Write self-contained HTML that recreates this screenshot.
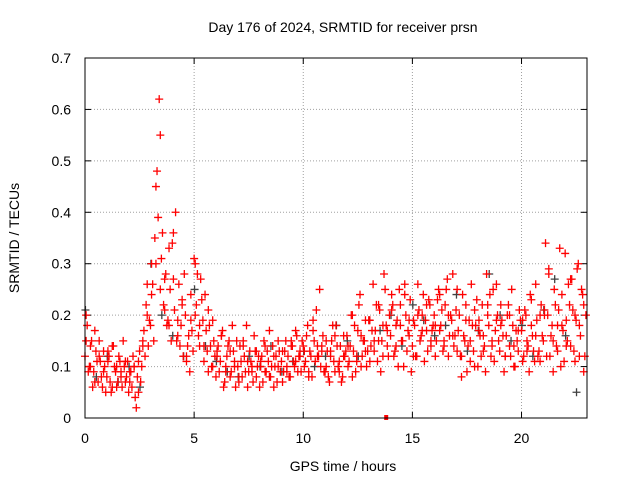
<!DOCTYPE html>
<html><head><meta charset="utf-8"><style>
html,body{margin:0;padding:0;background:#fff;}
svg{display:block;font-family:"Liberation Sans",sans-serif;}
</style></head><body>
<svg id="chart" width="640" height="480" viewBox="0 0 640 480">
<text x="343" y="32" text-anchor="middle" font-size="14" fill="#000">Day 176 of 2024, SRMTID for receiver prsn</text>
<text x="343" y="471" text-anchor="middle" font-size="14" fill="#000">GPS time / hours</text>
<text transform="translate(19,238) rotate(-90)" text-anchor="middle" font-size="14" fill="#000">SRMTID / TECUs</text>
<g id="grid"></g>
<g id="ticks"></g>
<g id="marks"></g>
<rect x="85" y="58" width="502" height="360" fill="none" stroke="#000" stroke-width="1"/>
</svg>
<script>
const xTicks=[0,5,10,15,20];
const yTicks=[0,0.1,0.2,0.3,0.4,0.5,0.6,0.7];
const yTickLabels=["0","0.1","0.2","0.3","0.4","0.5","0.6","0.7"];
const seriesA=[.12,.18,.10,.15,.09,.13,.07,.11,.06,.10,.08,.12,.05,.14,.09,.07,.11,.06,.10,.08,.05,.09,.12,.04,.08,.13,.10,.17,.22,.14,.18,.26,.35,.48,.62,.31,.22,.28,.19,.25,.34,.21,.15,.26,.18,.12,.20,.14,.09,.17,.31,.22,.16,.27,.19,.24,.13,.18,.10,.15,.08,.14,.11,.17,.07,.12,.15,.09,.13,.06,.10,.14,.08,.12,.18,.09,.11,.07,.13,.10,.06,.12,.15,.09,.11,.08,.14,.10,.07,.13,.11,.09,.15,.12,.08,.14,.10,.16,.12,.09,.14,.11,.18,.13,.08,.15,.21,.12,.10,.16,.09,.13,.07,.15,.11,.18,.10,.14,.08,.12,.16,.11,.20,.13,.09,.17,.24,.12,.15,.10,.19,.14,.26,.17,.11,.21,.15,.28,.18,.12,.16,.22,.13,.19,.25,.15,.10,.20,.17,.23,.14,.18,.12,.21,.16,.24,.19,.13,.22,.17,.20,.15,.25,.18,.13,.22,.27,.16,.19,.14,.21,.17,.12,.24,.15,.09,.19,.26,.13,.18,.10,.16,.22,.14,.28,.18,.12,.25,.17,.20,.13,.19,.09,.16,.22,.12,.18,.10,.15,.21,.17,.12,.20,.14,.24,.16,.11,.19,.13,.22,.15,.34,.20,.12,.18,.25,.14,.21,.10,.17,.32,.15,.22,.27,.13,.19,.30,.16,.24,.12];
const seriesB=[.20,.09,.14,.06,.17,.11,.15,.08,.13,.05,.11,.07,.14,.10,.06,.12,.09,.15,.07,.11,.09,.06,.10,.02,.11,.07,.15,.12,.26,.19,.24,.15,.30,.39,.55,.36,.27,.18,.33,.15,.27,.40,.19,.14,.22,.28,.11,.16,.24,.13,.20,.28,.14,.23,.11,.17,.09,.14,.19,.12,.13,.09,.16,.06,.10,.14,.08,.18,.11,.15,.07,.11,.15,.09,.06,.13,.10,.16,.08,.12,.11,.07,.09,.13,.17,.10,.06,.12,.15,.09,.07,.13,.10,.08,.14,.11,.17,.09,.13,.15,.10,.16,.08,.12,.19,.11,.14,.25,.13,.09,.15,.08,.12,.18,.09,.14,.11,.07,.16,.13,.10,.14,.08,.18,.12,.22,.10,.15,.19,.13,.11,.17,.13,.22,.15,.09,.18,.25,.14,.20,.24,.12,.18,.10,.22,.15,.26,.13,.19,.09,.19,.12,.26,.15,.20,.11,.17,.23,.14,.18,.12,.23,.17,.21,.15,.25,.12,.20,.28,.16,.13,.20,.08,.16,.22,.14,.11,.18,.10,.23,.19,.12,.16,.09,.20,.24,.14,.11,.19,.15,.22,.16,.12,.20,.14,.25,.10,.17,.13,.19,.11,.21,.15,.09,.18,.13,.26,.12,.20,.16,.20,.12,.28,.16,.09,.22,.13,.33,.18,.11,.19,.26,.14,.21,.11,.29,.18,.25,.09,.20];
const seriesC=[.15,.10,.07,.12,.09,.13,.06,.10,.08,.11,.07,.10,.05,.14,.20,.30,.45,.25,.21,.18,.36,.16,.23,.12,.19,.30,.18,.14,.21,.10,.12,.16,.09,.13,.10,.08,.14,.11,.09,.13,.10,.14,.08,.12,.10,.13,.09,.15,.11,.12,.13,.09,.17,.12,.14,.10,.13,.16,.09,.12,.14,.20,.11,.16,.13,.19,.15,.22,.12,.17,.21,.14,.18,.24,.16,.12,.20,.17,.22,.15,.18,.24,.14,.20,.16,.25,.12,.19,.15,.21,.17,.13,.22,.15,.26,.18,.12,.20,.14,.17,.19,.13,.23,.16,.11,.21,.29,.15,.18,.24,.14,.27,.20,.12,.22];
const seriesK=[.21,.08,.12,.07,.10,.06,.30,.20,.16,.12,.25,.14,.11,.09,.08,.12,.10,.14,.09,.11,.13,.10,.12,.18,.15,.12,.19,.17,.20,.14,.22,.19,.16,.18,.24,.13,.17,.28,.20,.15,.18,.12,.21,.27,.16,.05];
const outlierT=[13.8];
const outlierV=[0];

const X0=85,X1=587,Y0=418,Y1=58,XMAX=23,YMAX=0.7;
const sx=t=>X0+(X1-X0)*t/XMAX;
const sy=v=>Y0-(Y0-Y1)*v/YMAX;
const NS="http://www.w3.org/2000/svg";
const grid=document.getElementById('grid'),ticks=document.getElementById('ticks'),marks=document.getElementById('marks');
function mk(tag,attrs,parent){const e=document.createElementNS(NS,tag);for(const k in attrs)e.setAttribute(k,attrs[k]);parent.appendChild(e);return e;}
xTicks.forEach((t,i)=>{
  const x=sx(t);
  if(t>0){const g=mk('line',{x1:x,x2:x,y1:Y0,y2:Y1,stroke:'#a0a0a0','stroke-dasharray':'1,2'},grid);
  
  }
  mk('line',{x1:x,x2:x,y1:Y0,y2:Y0-6,stroke:'#000'},ticks);
  mk('line',{x1:x,x2:x,y1:Y1,y2:Y1+6,stroke:'#000'},ticks);
  const l=mk('text',{x:x,y:443,'text-anchor':'middle','font-size':'14'},ticks);
  l.textContent=String(t);
  
  
});
yTicks.forEach((v,i)=>{
  const y=sy(v);
  if(v>0&&v<YMAX){const g=mk('line',{x1:X0,x2:X1,y1:y,y2:y,stroke:'#a0a0a0','stroke-dasharray':'1,2'},grid);
  
  }
  mk('line',{x1:X0,x2:X0+6,y1:y,y2:y,stroke:'#000'},ticks);
  mk('line',{x1:X1,x2:X1-6,y1:y,y2:y,stroke:'#000'},ticks);
  const l=mk('text',{x:71,y:y+5,'text-anchor':'end','font-size':'14'},ticks);
  l.textContent=yTickLabels[i];
  
  
});
function plus(t,v,color,name){
  const x=sx(t),y=sy(v);
  const p=mk('path',{d:`M${x-4},${y}H${x+4}M${x},${y-4}V${y+4}`,stroke:color,'stroke-width':'1.3',fill:'none'},marks);
  
  
}
seriesK.forEach((v,i)=>plus(i*0.5+0.02,v,'#404040','black-point'));
seriesA.forEach((v,i)=>plus(i*0.1,v,'#ff0000','red-point'));
seriesB.forEach((v,i)=>plus(i*0.1+0.05,v,'#ff0000','red-point'));
seriesC.forEach((v,i)=>plus(i*0.2+0.05,v,'#ff0000','red-point'));
outlierT.forEach((t,i)=>{
  const r=mk('rect',{x:sx(t)-2,y:sy(outlierV[i])-3,width:4,height:5,fill:'#ff0000'},marks);
  
  
});
</script>
</body></html>
